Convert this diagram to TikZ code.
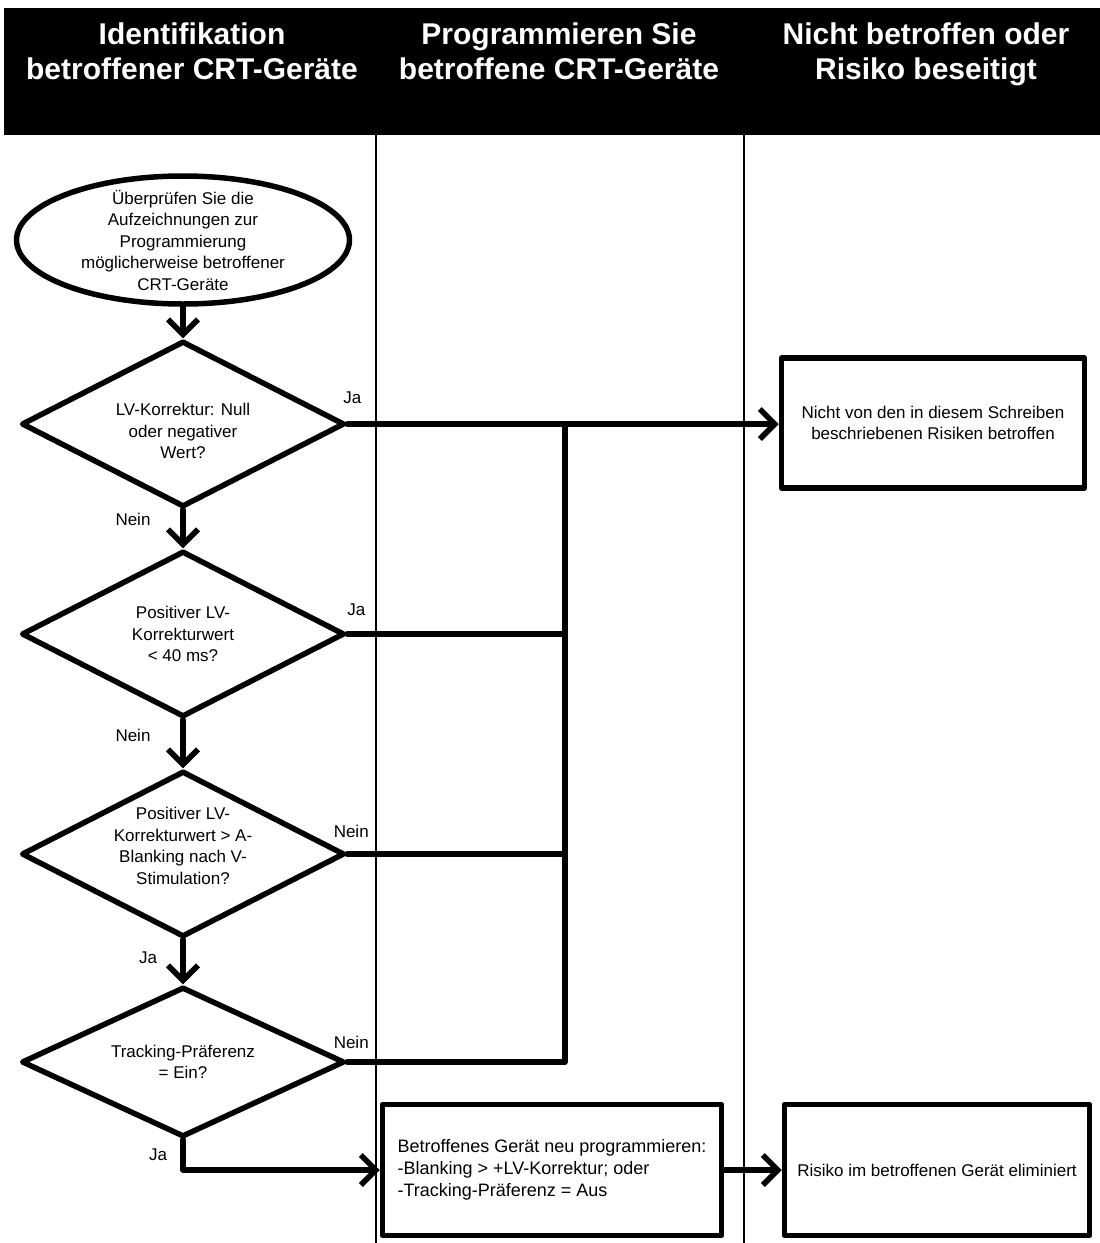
\documentclass[tikz,border=0pt]{standalone}
\usepackage{fontspec}
\setmainfont{Liberation Sans}
\usetikzlibrary{shapes.geometric,arrows.meta}

\begin{document}
\begin{tikzpicture}[
  x = 1pt, y = -1pt,
  every node/.style = {font = \fontsize{17}{21.5}\selectfont, align = center},
  flow/.style = {line width = 5.5pt, line cap = round, line join = round},
  arr/.style = {flow, -{Straight Barb[length = 15pt, width = 30pt]}},
  lane/.style = {line width = 1.5pt},
  start/.style = {flow, draw, ellipse, minimum width = 333pt, minimum height = 128pt},
  decision/.style = {flow, draw, diamond, aspect = 1.92, inner sep = 0pt,
                     minimum width = 323pt, minimum height = 166pt},
  result/.style = {flow, draw, rectangle, minimum width = 303pt, minimum height = 130pt},
  head/.style = {text = white, font = \fontsize{30}{35}\selectfont\bfseries},
  answer/.style = {inner sep = 0pt}
  ]
  \useasboundingbox (0,0) rectangle (1100,1243);

  % swimlane header and lanes
  \fill (4,8) rectangle (1100,135);
  \node[head] (lane1) at (192,55) {Identifikation\strut\\betroffener CRT-Geräte\strut};
  \node[head] (lane2) at (559,55) {Programmieren Sie\strut\\betroffene CRT-Geräte\strut};
  \node[head] (lane3) at (926,55) {Nicht betroffen oder\strut\\Risiko beseitigt\strut};
  \draw[lane] (376,135) -- (376,1243);
  \draw[lane] (744,135) -- (744,1243);

  % steps
  \node[start] (check) at (183,240) {};
  \node (checktext) at (check) {Überprüfen Sie die\\Aufzeichnungen zur\\Programmierung\\möglicherweise betroffener\\CRT-Geräte};
  \node[decision] (zero) at (183,424) {};
  \node (zerotext) at ([yshift=-7pt]zero) {LV-Korrektur: Null\\oder negativer\\Wert?};
  \node[decision] (short) at (183,634) {};
  \node (shorttext) at (short) {Positiver LV-\\Korrekturwert\\< 40 ms?};
  \node[decision] (blank) at (183,854) {};
  \node (blanktext) at ([yshift=8pt]blank) {Positiver LV-\\Korrekturwert > A-\\Blanking nach V-\\Stimulation?};
  \node[decision, minimum height = 150pt] (track) at (183,1062) {};
  \node (tracktext) at (track) {Tracking-Präferenz\\= Ein?};
  \node[result] (safe) at (933,423) {Nicht von den in diesem Schreiben\\beschriebenen Risiken betroffen};
  \node[result, minimum width = 339pt, minimum height = 131pt, align = left,
        font = \fontsize{18}{22}\selectfont] (reprog) at (552,1170)
    {Betroffenes Gerät neu programmieren:\\-Blanking > +LV-Korrektur; oder\\-Tracking-Präferenz = Aus};
  \node[result, minimum width = 305pt, minimum height = 131pt] (fixed) at (937,1170) {Risiko im betroffenen Gerät eliminiert};

  % connectors
  \coordinate (bus) at (565,424);
  \draw[arr] (check) -- (zero);
  \draw[arr] (zero) -- (short);
  \draw[arr] (short) -- (blank);
  \draw[arr] (blank) -- (track);
  \draw[arr] (zero.east) -- (zero.east -| safe.west);
  \draw[flow] (short.east) -- (short.east -| bus);
  \draw[flow] (blank.east) -- (blank.east -| bus);
  \draw[flow] (track.east) -| (bus);
  \draw[arr] (track.south) |- (reprog.west);
  \draw[arr] (reprog) -- (fixed);

  % answers
  \node[answer] at ([shift={(5,-26)}]zero.east) {Ja};
  \node[answer] at ([shift={(-50,10)}]zero.south) {Nein};
  \node[answer] at ([shift={(9,-24)}]short.east) {Ja};
  \node[answer] at ([shift={(-50,16)}]short.south) {Nein};
  \node[answer] at ([shift={(4,-23)}]blank.east) {Nein};
  \node[answer] at ([shift={(-35,18)}]blank.south) {Ja};
  \node[answer] at ([shift={(4,-20)}]track.east) {Nein};
  \node[answer] at ([shift={(-25,15)}]track.south) {Ja};
\end{tikzpicture}
\end{document}
